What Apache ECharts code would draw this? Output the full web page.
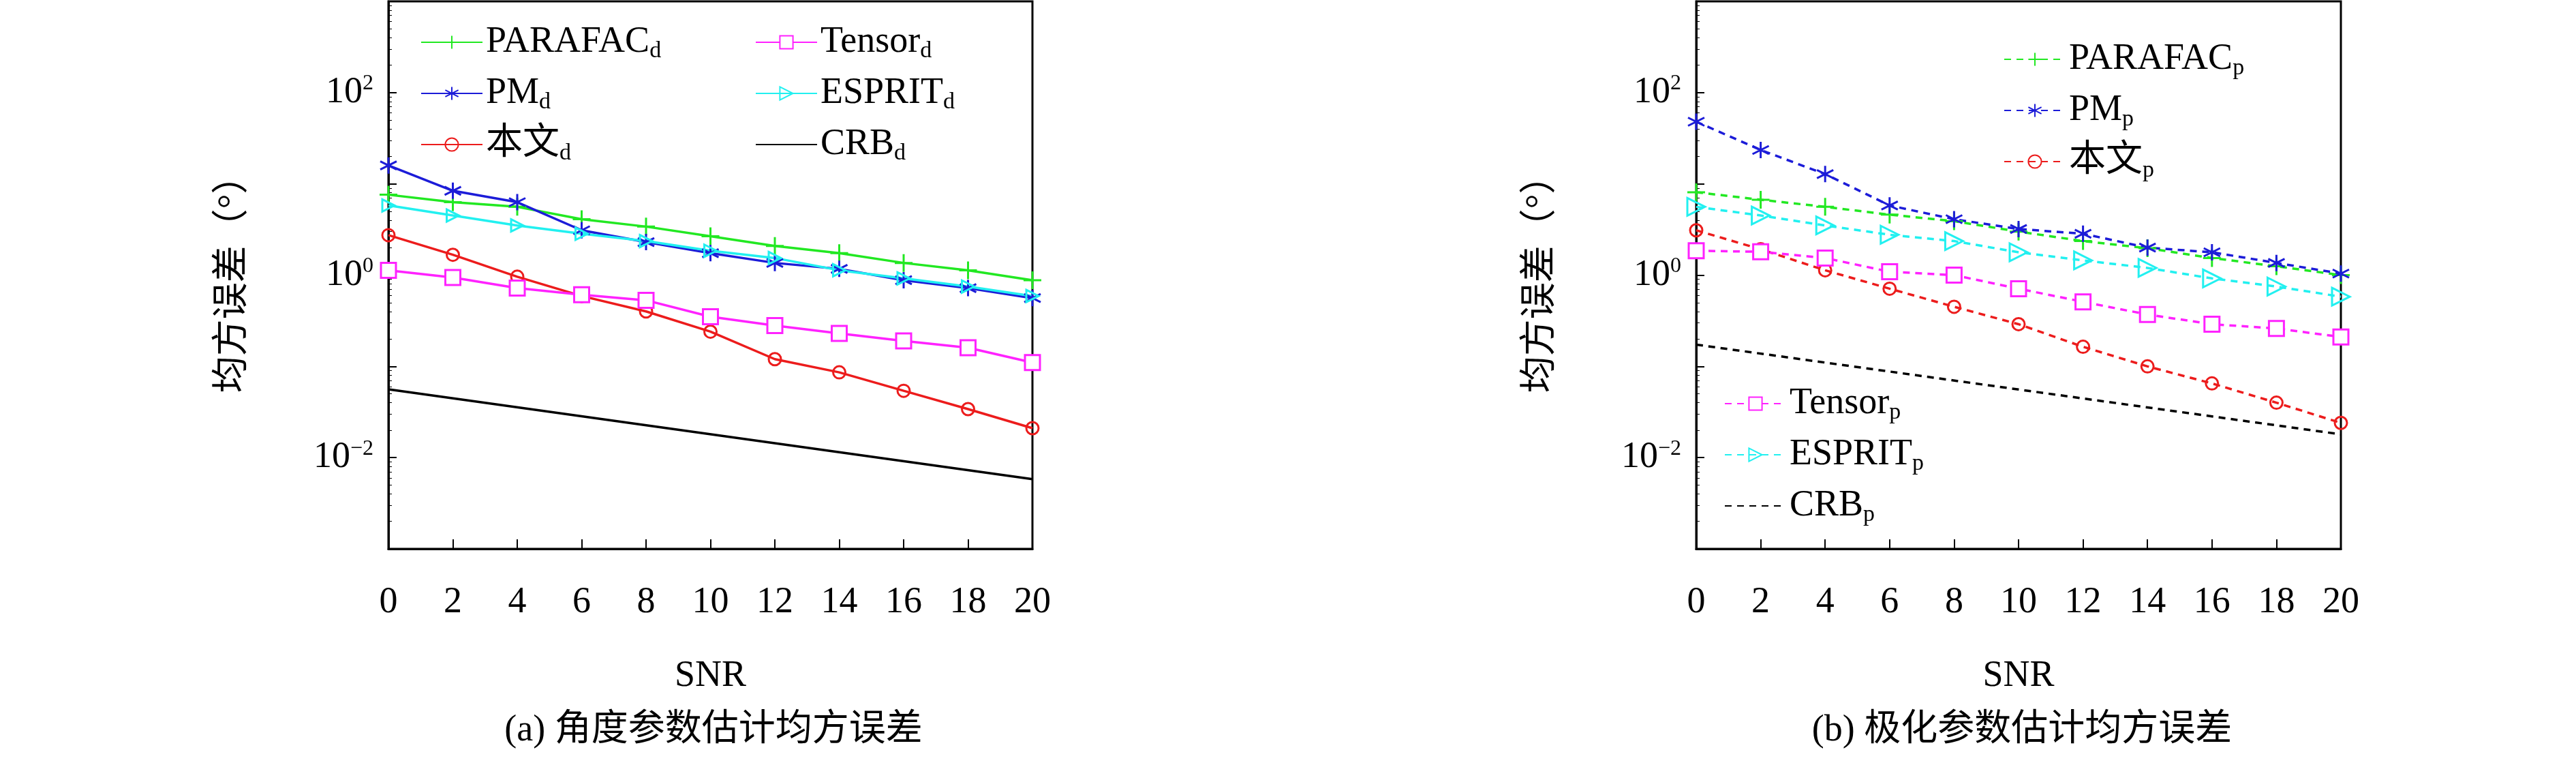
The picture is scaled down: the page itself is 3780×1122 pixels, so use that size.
<!DOCTYPE html>
<html>
<head>
<meta charset="UTF-8">
<script src="https://cdn.jsdelivr.net/npm/echarts@6/dist/echarts.min.js"></script>
</head>
<body style="margin:0">
<div id="c" style="width:3780px;height:1122px"></div>
<script>
const snr = [0, 2, 4, 6, 8, 10, 12, 14, 16, 18, 20];
const crbSnr = [0, 20];

const parafacD = [7.6, 6.3, 5.6, 4.1, 3.4, 2.67, 2.09, 1.74, 1.36, 1.13, 0.88];
const pmD = [15.9, 8.4, 6.3, 3.1, 2.3, 1.74, 1.36, 1.17, 0.88, 0.72, 0.56];
const oursD = [2.74, 1.67, 0.96, 0.59, 0.40, 0.24, 0.12, 0.086, 0.054, 0.034, 0.021];
const tensorD = [1.13, 0.94, 0.72, 0.61, 0.53, 0.35, 0.28, 0.23, 0.19, 0.16, 0.11];
const espritD = [5.8, 4.5, 3.5, 2.84, 2.36, 1.85, 1.54, 1.13, 0.92, 0.75, 0.59];
const crbD = [0.056, 0.0058];

const parafacP = [8.1, 6.7, 5.6, 4.6, 3.9, 3.0, 2.36, 1.97, 1.54, 1.25, 1.0];
const pmP = [48, 23.5, 12.8, 5.8, 4.1, 3.2, 2.84, 2.0, 1.78, 1.36, 1.04];
const oursP = [3.1, 1.92, 1.13, 0.71, 0.45, 0.29, 0.164, 0.10, 0.065, 0.04, 0.024];
const tensorP = [1.85, 1.8, 1.54, 1.09, 1.0, 0.71, 0.51, 0.37, 0.29, 0.26, 0.21];
const espritP = [5.6, 4.5, 3.5, 2.77, 2.36, 1.78, 1.45, 1.2, 0.92, 0.75, 0.58];
const crbP = [0.173, 0.018];

const FONT = '"Liberation Serif", "Noto Sans CJK SC", serif';
const sym = {
  plus: 'path://M0,-10L0,10M-10,0L10,0',
  star: 'path://M0,-10L0,10M-8.7,-5L8.7,5M-8.7,5L8.7,-5',
  tri: 'path://M0,0L17,10L0,20Z'
};

function zip(xs, ys) { return xs.map((x, i) => [x, ys[i]]); }

function mk(name, grid, xs, ys, color, symbol, size, dashed) {
  return {
    name, type: 'line', xAxisIndex: grid, yAxisIndex: grid,
    data: zip(xs, ys), symbol: symbol || 'none', symbolSize: size || 22,
    showSymbol: !!symbol,
    lineStyle: { color, width: 3.5, type: dashed ? [10, 8] : 'solid' },
    itemStyle: { color: symbol === 'rect' ? '#fff' : 'none', borderColor: color, borderWidth: 3 },
    emphasis: { disabled: true }, z: symbol ? 3 : 2
  };
}

function sub(s) { return s.replace(/_(\w)$/, '{s|$1}'); }
const legText = { fontFamily: FONT, fontSize: 54, color: '#000',
  rich: { s: { fontFamily: FONT, fontSize: 34, verticalAlign: 'bottom', padding: [26, 0, 0, 0] } } };
function leg(names, left, top, gap) {
  const data = names.map(n => n.startsWith('CRB') ? { name: n, itemStyle: { opacity: 0 } } : n);
  return { data, left, top, orient: 'vertical', itemGap: gap || 18, itemWidth: 90, itemHeight: 24,
    formatter: sub, textStyle: legText, selectedMode: false };
}

const grids = [
  { left: 570, top: 2, width: 945, height: 803 },
  { left: 2489, top: 2, width: 946, height: 803 }
];
const xAxes = grids.map((g, i) => ({
  type: 'value', gridIndex: i, min: 0, max: 20, interval: 2,
  name: 'SNR', nameLocation: 'middle', nameGap: 160,
  nameTextStyle: { fontFamily: FONT, fontSize: 54, color: '#000' },
  axisLine: { lineStyle: { color: '#000', width: 3 } },
  axisTick: { inside: true, length: 14, lineStyle: { color: '#000', width: 2 } },
  axisLabel: { fontFamily: FONT, fontSize: 54, color: '#000', margin: 52 },
  splitLine: { show: false }
}));
const yAxes = grids.map((g, i) => ({
  type: 'log', gridIndex: i, min: 1e-3, max: 1e3, logBase: 10,
  name: '均方误差（°）', nameLocation: 'middle', nameGap: 200,
  nameTextStyle: { fontFamily: FONT, fontSize: 54, color: '#000' },
  axisLine: { lineStyle: { color: '#000', width: 3 } },
  axisTick: { inside: true, length: 12, lineStyle: { color: '#000', width: 2 } },
  minorTick: { show: true, splitNumber: 9, length: 5, lineStyle: { color: '#000' } },
  axisLabel: {
    fontFamily: FONT, fontSize: 54, color: '#000', margin: 22,
    formatter: v => {
      const e = Math.round(Math.log10(v));
      if (Math.abs(e) % 2 !== 0 || Math.abs(e) > 2) return '';
      return '10{sup|' + (e < 0 ? '−' + (-e) : e) + '}';
    },
    rich: { sup: { fontFamily: FONT, fontSize: 32, verticalAlign: 'top', padding: [0, 0, 26, 0] } }
  },
  splitLine: { show: false }
}));

const green = '#22e822', blue = '#1c1cd8', red = '#ec1c1c', mag = '#ff22ff', cyan = '#22f0f0';
const series = [
  mk('PARAFAC_d', 0, snr, parafacD, green, sym.plus, 26),
  mk('PM_d', 0, snr, pmD, blue, sym.star, 24),
  mk('本文_d', 0, snr, oursD, red, 'circle', 18),
  mk('Tensor_d', 0, snr, tensorD, mag, 'rect', 22),
  mk('ESPRIT_d', 0, snr, espritD, cyan, sym.tri, 18),
  mk('CRB_d', 0, crbSnr, crbD, '#000'),
  mk('PARAFAC_p', 1, snr, parafacP, green, sym.plus, 26, true),
  mk('PM_p', 1, snr, pmP, blue, sym.star, 24, true),
  mk('本文_p', 1, snr, oursP, red, 'circle', 18, true),
  mk('Tensor_p', 1, snr, tensorP, mag, 'rect', 22, true),
  mk('ESPRIT_p', 1, snr, espritP, cyan, sym.tri, 26, true),
  mk('CRB_p', 1, crbSnr, crbP, '#000', null, 0, true)
];

const chart = echarts.init(document.getElementById('c'));
chart.setOption({
  backgroundColor: '#fff',
  animation: false,
  grid: grids.map(g => Object.assign({ show: true, borderColor: '#000', borderWidth: 3 }, g)),
  xAxis: xAxes,
  yAxis: yAxes,
  legend: [
    leg(['PARAFAC_d', 'PM_d', '本文_d'], 612, 30),
    leg(['Tensor_d', 'ESPRIT_d', 'CRB_d'], 1103, 30),
    leg(['PARAFAC_p', 'PM_p', '本文_p'], 2935, 55),
    leg(['Tensor_p', 'ESPRIT_p', 'CRB_p'], 2525, 560)
  ],
  title: [
    { text: '(a) 角度参数估计均方误差', left: 1042, top: 1040, textAlign: 'center',
      textStyle: { fontFamily: FONT, fontSize: 54, fontWeight: 'normal', color: '#000' } },
    { text: '(b) 极化参数估计均方误差', left: 2962, top: 1040, textAlign: 'center',
      textStyle: { fontFamily: FONT, fontSize: 54, fontWeight: 'normal', color: '#000' } }
  ],
  series
});
</script>
</body>
</html>
